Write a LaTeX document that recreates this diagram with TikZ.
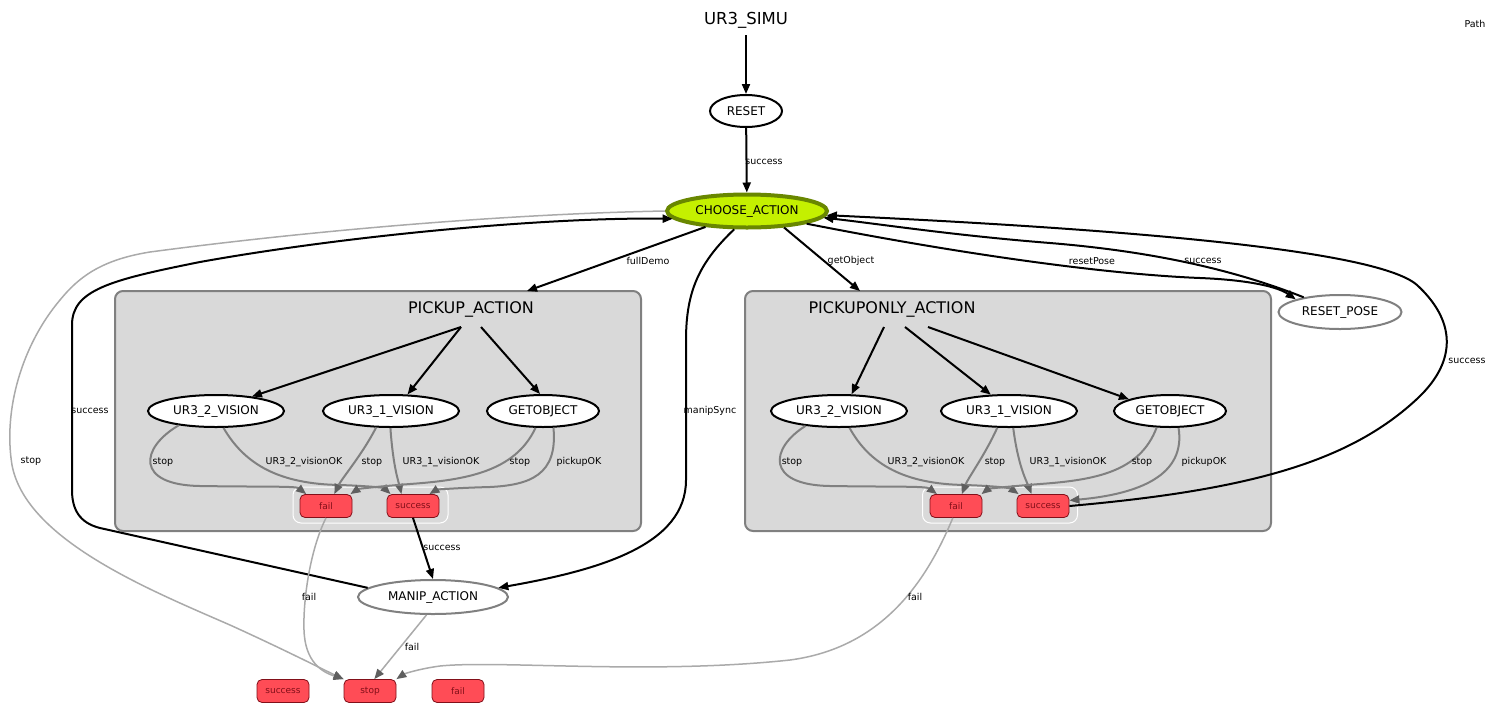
\documentclass[tikz,border=0pt]{standalone}
\usepackage{fontspec}
\setmainfont{DejaVu Sans}
\usetikzlibrary{shapes.geometric,arrows.meta,positioning}

\definecolor{smgreen}{RGB}{196,240,0}
\definecolor{smolive}{RGB}{105,135,0}
\definecolor{smred}{RGB}{255,76,86}
\definecolor{smdred}{RGB}{130,15,25}
\definecolor{smgray}{RGB}{217,217,217}
\definecolor{smedge}{RGB}{128,128,128}
\definecolor{smtip}{RGB}{95,95,95}
\definecolor{smlight}{RGB}{170,170,170}

\begin{document}
\begin{tikzpicture}[x=1pt,y=-1pt,
  state/.style={ellipse, draw=black, line width=2pt, fill=white, inner sep=0pt, minimum height=32pt, font=\fontsize{12}{14}\selectfont},
  idlestate/.style={state, draw=smedge},
  activestate/.style={state, draw=smolive, fill=smgreen, line width=4pt, minimum height=33pt},
  outcome/.style={draw=smdred, fill=smred, text=smdred, rounded corners=5pt, line width=0.8pt, minimum width=52pt, minimum height=23pt, inner sep=0pt, font=\fontsize{9}{10}\selectfont},
  container/.style={draw=smedge, fill=smgray, line width=2pt, rounded corners=8pt, minimum width=526pt, minimum height=240pt, inner sep=0pt},
  outcomebox/.style={draw=white, line width=1pt, rounded corners=8pt, minimum width=155pt, minimum height=36pt, inner sep=0pt},
  containertitle/.style={font=\fontsize{16}{18}\selectfont, inner sep=1pt},
  trlabel/.style={font=\fontsize{9.5}{11}\selectfont, inner sep=1pt},
  trans/.style={line width=2pt, -{Triangle[length=10pt,width=8pt]}},
  subtrans/.style={line width=2pt, draw=smedge, -{Triangle[length=10pt,width=8pt,color=smtip]}},
  fadedtrans/.style={line width=1.5pt, draw=smlight, -{Triangle[length=10pt,width=8pt,color=smtip]}}
]

\fill[white] (0,0) rectangle (1491,710);

\useasboundingbox (0,0) rectangle (1491,710);

\node[container] (pick) at (378,411) {};

\node[container] (pickonly) at (1008,411) {};

\node[outcomebox] (pickout) at (370.5,505) {};

\node[outcomebox] (pickonlyout) at (1000,505) {};

\node[containertitle] (picktitle) at (471,309) {PICKUP\_ACTION};

\node[containertitle] (pickonlytitle) at (892,309) {PICKUPONLY\_ACTION};

\coordinate (pkA) at (461,327);

\coordinate (pkB) at (481,327);

\coordinate (poA) at (884,327);

\coordinate (poB) at (905,327);

\coordinate (poC) at (928,327);

\coordinate (pickin) at (527,291);

\coordinate (pickonlyin) at (860,291);

\node[containertitle, font=\fontsize{16.5}{18}\selectfont] (simu) at (746,20) {UR3\_SIMU};

\node[font=\fontsize{9.5}{11}\selectfont] (pathlbl) at (1475,24) {Path};

\node[state, minimum width=72pt] (reset) at (746,111) {RESET};

\node[activestate, minimum width=160pt] (choose) at (747,211) {CHOOSE\_ACTION};

\node[idlestate, minimum width=123pt, minimum height=34pt] (resetpose) at (1340,312) {RESET\_POSE};

\node[idlestate, minimum width=150pt, minimum height=34pt] (manip) at (433,597) {MANIP\_ACTION};

\node[state, minimum width=136pt] (visA) at (216,411) {UR3\_2\_VISION};

\node[state, minimum width=136pt] (visB) at (391,411) {UR3\_1\_VISION};

\node[state, minimum width=112pt] (getA) at (543,411) {GETOBJECT};

\node[state, minimum width=136pt] (visC) at (839,411) {UR3\_2\_VISION};

\node[state, minimum width=136pt] (visD) at (1009,411) {UR3\_1\_VISION};

\node[state, minimum width=112pt] (getB) at (1170,411) {GETOBJECT};

\node[outcome] (failA) at (326,506) {fail};

\node[outcome] (succA) at (413,506) {success};

\node[outcome] (failB) at (956,506) {fail};

\node[outcome] (succB) at (1043,506) {success};

\node[outcome] (tsucc) at (283,691) {success};

\node[outcome] (tstop) at (370,691) {stop};

\node[outcome] (tfail) at (458,691) {fail};

\draw[trans, shorten <=6pt] (simu) -- (reset);

\draw[trans] (reset) -- (choose);

\draw[trans] (choose.201) -- (pickin);

\draw[trans] (choose.336) -- (pickonlyin);

\draw[trans] (choose.235) .. controls (700,262) and (686,290) .. (686,340) -- (686,480) .. controls (686,545) and (600,570) .. (manip.8);

\draw[trans] (choose.-12) .. controls (950,252) and (1100,274) .. (1200,278) .. controls (1250,280) and (1278,287) .. (resetpose.164);

\draw[trans] (resetpose.158) .. controls (1240,272) and (1160,252) .. (1050,243) .. controls (950,235) and (880,224) .. (choose.-5);

\draw[trans] (succB.east) .. controls (1250,490) and (1350,462) .. (1418,398) .. controls (1458,360) and (1455,320) .. (1417,285) .. controls (1375,248) and (1100,228) .. (choose.-3);

\draw[trans] (succA.south) -- (manip.north);

\draw[trans] (manip.172) -- (100,528) .. controls (80,523) and (72,510) .. (72,490) -- (72,325) .. controls (72,290) and (110,280) .. (200,262) .. controls (350,235) and (550,217) .. (choose.186);

\draw[fadedtrans] (choose.180) .. controls (500,214) and (300,232) .. (150,252) .. controls (100,260) and (78,278) .. (60,300) .. controls (22,345) and (3,410) .. (12,465) .. controls (26,540) and (150,590) .. (230,625) .. controls (285,650) and (320,668) .. (tstop.north west);

\draw[fadedtrans] (failA.south) .. controls (310,550) and (303,600) .. (304,630) .. controls (305,662) and (322,672) .. (tstop.north west);

\draw[fadedtrans] (manip.250) -- (tstop.70);

\draw[fadedtrans] (failB.255) .. controls (925,585) and (880,648) .. (790,660) .. controls (650,675) and (500,660) .. (440,666) .. controls (418,669) and (404,674) .. (tstop.north east);

\draw[trans] (pkA) -- (visA.22);

\draw[trans] (pkA) -- (visB.45);

\draw[trans] (pkB) -- (getA.100);

\draw[trans] (poA) -- (visC.53);

\draw[trans] (poB) -- (visD.138);

\draw[trans] (poC) -- (getB.164);

\draw[subtrans] (visA.201) .. controls (140,448) and (135,485) .. (200,486) .. controls (262,487) and (296,486) .. (failA.149);

\draw[subtrans] (visA.294) .. controls (245,465) and (280,484) .. (340,485) .. controls (370,486) and (384,488) .. (succA.152);

\draw[subtrans] (visB.228) .. controls (362,455) and (342,478) .. (failA.55);

\draw[subtrans] (visB.268) .. controls (393,465) and (398,480) .. (succA.134);

\draw[subtrans] (getA.246) .. controls (515,472) and (465,480) .. (410,484) .. controls (372,487) and (358,489) .. (failA.26);

\draw[subtrans] (getA.302) .. controls (558,475) and (530,485) .. (490,487) .. controls (452,488) and (436,490) .. (succA.36);

\draw[subtrans] (visC.204) .. controls (770,448) and (765,485) .. (830,486) .. controls (892,487) and (926,486) .. (failB.148);

\draw[subtrans] (visC.302) .. controls (870,465) and (905,484) .. (965,485) .. controls (995,486) and (1010,488) .. (succB.154);

\draw[subtrans] (visD.235) .. controls (985,455) and (968,478) .. (failB.64);

\draw[subtrans] (visD.284) .. controls (1018,465) and (1026,480) .. (succB.134);

\draw[subtrans] (getB.231) .. controls (1140,472) and (1095,480) .. (1040,484) .. controls (1002,487) and (988,489) .. (failB.25);

\draw[subtrans] (getB.297) .. controls (1186,475) and (1140,494) .. (succB.12);

\node[trlabel] (l1) at (764,162) {success};

\node[trlabel] (l2) at (648,261) {fullDemo};

\node[trlabel] (l3) at (851,261) {getObject};

\node[trlabel] (l4) at (1092,261) {resetPose};

\node[trlabel] (l5) at (1203,261) {success};

\node[trlabel] (l6) at (1467,361) {success};

\node[trlabel] (l7) at (710,411) {manipSync};

\node[trlabel] (l8) at (90,411) {success};

\node[trlabel] (l9) at (31,461) {stop};

\node[trlabel] (l10) at (442,548) {success};

\node[trlabel] (l11) at (309,597) {fail};

\node[trlabel] (l12) at (412,647) {fail};

\node[trlabel] (l13) at (915,597) {fail};

\node[trlabel] (l14) at (163,462) {stop};

\node[trlabel] (l15) at (304,462) {UR3\_2\_visionOK};

\node[trlabel] (l16) at (372,462) {stop};

\node[trlabel] (l17) at (441,462) {UR3\_1\_visionOK};

\node[trlabel] (l18) at (520,462) {stop};

\node[trlabel] (l19) at (579,462) {pickupOK};

\node[trlabel] (l20) at (792,462) {stop};

\node[trlabel] (l21) at (926,462) {UR3\_2\_visionOK};

\node[trlabel] (l22) at (995,462) {stop};

\node[trlabel] (l23) at (1068,462) {UR3\_1\_visionOK};

\node[trlabel] (l24) at (1142,462) {stop};

\node[trlabel] (l25) at (1204,462) {pickupOK};
\end{tikzpicture}
\end{document}
